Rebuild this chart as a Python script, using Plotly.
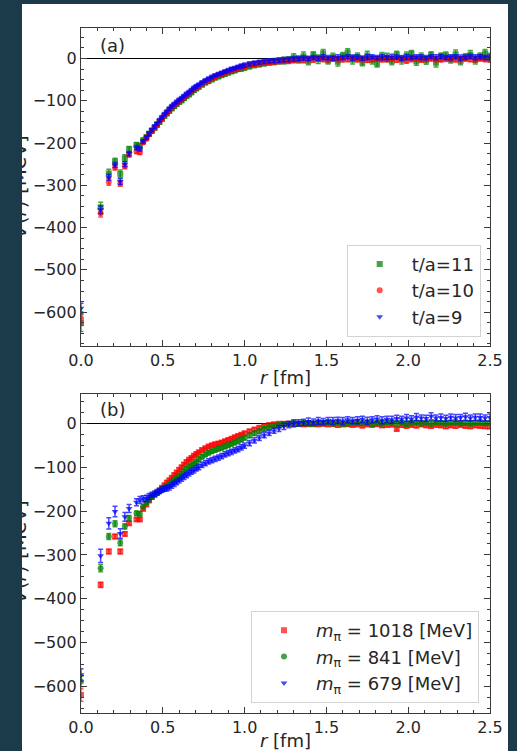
import plotly.graph_objects as go

# Separation r [fm] shared by every series
R = [0.0, 0.12, 0.17, 0.208, 0.24, 0.268, 0.294, 0.339, 0.36, 0.38, 0.40, 0.416,
     0.433, 0.45, 0.465, 0.48, 0.495, 0.51, 0.525, 0.54, 0.555, 0.57, 0.585, 0.60,
     0.615, 0.63, 0.645, 0.66, 0.675, 0.69, 0.705, 0.72, 0.74, 0.76, 0.78, 0.80,
     0.82, 0.84, 0.86, 0.88, 0.90, 0.92, 0.94, 0.96, 0.98, 1.00, 1.03, 1.06,
     1.09, 1.12, 1.15, 1.18, 1.21, 1.24, 1.27, 1.30, 1.33, 1.36, 1.39, 1.42,
     1.45, 1.48, 1.51, 1.54, 1.57, 1.60, 1.63, 1.66, 1.69, 1.72, 1.75, 1.78,
     1.81, 1.84, 1.87, 1.90, 1.93, 1.96, 1.99, 2.02, 2.05, 2.08, 2.11, 2.14,
     2.17, 2.20, 2.23, 2.26, 2.29, 2.32, 2.35, 2.38, 2.41, 2.44, 2.47, 2.50]

# (a) potential V(r) [MeV] for three sink times
V_T11 = [-626, -352, -272, -244, -273, -236, -215, -205, -208, -194, -186, -178,
         -171, -164, -157, -150, -143, -136, -130, -124, -118, -113, -108, -103,
         -99, -94, -89, -85, -80, -75, -71, -67, -62, -57, -53, -49,
         -45, -42, -39, -36, -33, -30, -28, -25, -23, -21, -18, -15,
         -13, -11, -9, -8, -6, -5, -4, 2, -3, 5, -6, 8,
         -2, 12, -5, 3, -8, 6, 14, -3, 4, -9, 7, -4,
         -12, 5, 2, -6, 9, -3, 6, 11, -7, 3, -5, 8,
         -10, 4, 7, -2, 10, -6, 3, 9, -4, 5, 12, 2]
E_T11 = [20, 12, 10, 8, 9, 8, 7, 6, 7, 6, 5, 5,
         5, 5, 5, 5, 5, 5, 5, 5, 5, 5, 5, 5,
         5, 5, 5, 5, 5, 5, 5, 5, 5, 5, 6, 6,
         6, 6, 6, 6, 6, 6, 6, 6, 7, 7, 7, 7,
         7, 7, 7, 7, 7, 8, 8, 9, 8, 10, 9, 8,
         10, 9, 8, 9, 10, 8, 9, 10, 9, 8, 10, 9,
         8, 9, 10, 9, 8, 10, 9, 8, 9, 10, 9, 8,
         10, 9, 8, 9, 10, 9, 8, 10, 9, 8, 9, 10]

V_T10 = [-615, -366, -292, -258, -295, -255, -228, -220, -222, -199, -190, -180,
         -172, -164, -157, -149, -142, -135, -128, -122, -116, -111, -106, -101,
         -97, -92, -87, -83, -78, -73, -69, -65, -60, -55, -51, -47,
         -43, -40, -37, -34, -31, -28, -26, -23, -21, -19, -16, -14,
         -12, -10, -9, -8, -7, -6, -5, -4, -3, -4, -2, -3,
         -1, -2, -3, -1, -2, -3, -2, -1, -3, -2, -4, -2,
         -1, -3, -2, -1, -3, -2, -6, -2, -1, -3, -2, -1,
         -2, -3, -1, -2, -3, -2, -1, -2, -3, -1, -2, -3]
E_T10 = [16, 9, 8, 6, 7, 6, 5, 5, 5, 4, 4, 4,
         4, 4, 4, 4, 4, 4, 4, 4, 4, 4, 4, 4,
         4, 4, 4, 4, 4, 4, 4, 4, 4, 4, 4, 4,
         4, 4, 4, 4, 4, 4, 5, 5, 5, 5, 5, 5,
         5, 5, 5, 5, 5, 5, 5, 6, 5, 6, 5, 6,
         5, 6, 5, 5, 6, 5, 6, 5, 5, 6, 5, 6,
         5, 5, 6, 5, 6, 5, 5, 6, 5, 6, 5, 5,
         6, 5, 6, 5, 5, 6, 5, 6, 5, 5, 6, 5]

V_T9 = [-591, -358, -281, -252, -291, -250, -225, -211, -214, -196, -187, -178,
        -169, -161, -154, -146, -139, -132, -126, -119, -113, -108, -103, -98,
        -94, -89, -84, -80, -75, -70, -66, -62, -57, -52, -48, -44,
        -40, -37, -34, -31, -28, -25, -23, -20, -18, -16, -13, -11,
        -9, -7, -6, -5, -4, -3, -2, -1, 0, 1, 0, 2,
        1, 3, 2, 1, 3, 2, 4, 2, 3, 1, 3, 4,
        2, 3, 2, 4, 3, 1, 3, 2, 4, 3, 2, 4,
        3, 5, 2, 3, 4, 2, 3, 5, 3, 4, 2, 3]
E_T9 = [12, 9, 7, 6, 7, 6, 5, 5, 5, 4, 4, 4,
        4, 4, 4, 4, 4, 4, 4, 4, 4, 4, 4, 4,
        4, 4, 4, 4, 4, 4, 4, 4, 4, 4, 4, 4,
        4, 4, 4, 4, 4, 4, 4, 4, 5, 5, 5, 5,
        5, 5, 5, 5, 5, 5, 5, 5, 5, 5, 5, 5,
        5, 6, 5, 5, 6, 5, 5, 6, 5, 5, 6, 5,
        5, 6, 5, 6, 5, 5, 6, 5, 5, 6, 5, 5,
        6, 5, 5, 6, 5, 6, 5, 5, 6, 5, 5, 6]

# (b) potential V(r) [MeV] for three pion masses
V_M1018 = [-619, -368, -292, -258, -292, -252, -228, -219, -219, -195, -185, -176,
           -168, -162, -158, -153, -147, -141, -135, -130, -124, -118, -112, -106,
           -100, -94, -88, -83, -79, -74, -70, -66, -61, -57, -53, -50,
           -48, -46, -44, -41, -38, -35, -32, -29, -26, -23, -18, -14,
           -10, -7, -4, -2, -1, -1, -1, -2, -1, -3, -2, -2,
           -3, -1, -3, -2, -4, -3, -2, -4, -3, -5, -3, -4,
           -2, -5, -4, -3, -13, -4, -6, -4, -5, -3, -5, -6,
           -4, -5, -7, -5, -6, -4, -6, -7, -5, -6, -7, -8]
E_M1018 = [14, 6, 5, 5, 5, 5, 4, 4, 4, 4, 4, 4,
           4, 4, 4, 4, 4, 4, 4, 4, 4, 4, 4, 4,
           4, 4, 4, 4, 4, 4, 4, 4, 4, 4, 4, 4,
           4, 4, 4, 4, 4, 4, 4, 4, 4, 4, 4, 4,
           4, 4, 4, 4, 4, 4, 4, 5, 4, 4, 5, 4,
           4, 5, 4, 4, 5, 4, 5, 4, 4, 5, 4, 4,
           5, 4, 4, 5, 4, 5, 4, 4, 5, 4, 4, 5,
           4, 4, 5, 4, 5, 4, 4, 5, 4, 4, 5, 4]

V_M841 = [-588, -330, -258, -229, -272, -235, -216, -205, -206, -190, -180, -174,
          -168, -163, -159, -155, -151, -147, -143, -140, -135, -130, -125, -120,
          -115, -110, -104, -100, -96, -92, -88, -82, -76, -71, -67, -64,
          -61, -58, -56, -53, -50, -47, -44, -41, -37, -33, -28, -23,
          -18, -13, -9, -6, -4, -2, -1, 0, -1, 1, 0, -1,
          1, 0, 2, 0, 1, -1, 0, 1, 2, 0, 1, -1,
          1, 0, 2, 1, 0, 1, -1, 1, 2, 0, 1, 0,
          2, 1, 0, 1, 2, 0, 1, 0, 1, 2, 0, 1]
E_M841 = [12, 8, 7, 7, 7, 6, 6, 5, 5, 5, 5, 5,
          5, 5, 5, 5, 5, 5, 5, 5, 5, 5, 5, 5,
          5, 5, 5, 5, 5, 5, 5, 5, 5, 5, 5, 5,
          5, 5, 5, 5, 5, 5, 5, 5, 5, 5, 5, 5,
          5, 5, 5, 5, 5, 5, 5, 6, 5, 5, 6, 5,
          6, 5, 5, 6, 5, 5, 6, 5, 6, 5, 5, 6,
          5, 6, 5, 5, 6, 5, 6, 5, 5, 6, 5, 6,
          5, 5, 6, 5, 6, 5, 5, 6, 5, 6, 5, 5]

V_M679 = [-573, -302, -228, -201, -251, -213, -194, -180, -175, -172, -171, -167,
          -163, -160, -157, -154, -151, -149, -148, -146, -142, -138, -134, -130,
          -126, -122, -118, -114, -110, -107, -103, -100, -95, -91, -87, -84,
          -81, -78, -75, -71, -68, -65, -62, -59, -55, -51, -45, -39,
          -33, -27, -22, -17, -12, -7, -3, 0, 1, 2, 4, 3,
          5, 4, 6, 5, 7, 5, 8, 6, 7, 9, 6, 8,
          10, 7, 9, 8, 11, 9, 12, 10, 14, 12, 11, 16,
          12, 13, 11, 14, 12, 13, 15, 12, 14, 13, 12, 13]
E_M679 = [14, 15, 13, 12, 11, 10, 9, 8, 8, 7, 7, 7,
          6, 6, 6, 6, 6, 6, 6, 6, 6, 6, 6, 6,
          6, 6, 6, 6, 6, 6, 6, 6, 6, 6, 6, 6,
          6, 6, 6, 6, 6, 6, 6, 6, 6, 6, 6, 6,
          6, 6, 6, 6, 7, 7, 7, 8, 7, 7, 8, 7,
          8, 7, 7, 8, 7, 8, 7, 7, 8, 7, 8, 7,
          7, 8, 7, 8, 7, 7, 8, 7, 8, 7, 7, 8,
          7, 8, 7, 7, 8, 7, 8, 7, 7, 8, 7, 8]

LABELS_A = ["t/a=11", "t/a=10", "t/a=9"]
LABELS_B = ["<i>m</i><sub>π</sub> = 1018 [MeV]",
            "<i>m</i><sub>π</sub> = 841 [MeV]",
            "<i>m</i><sub>π</sub> = 679 [MeV]"]

GREEN = "rgba(0,128,0,0.72)"
RED = "rgba(255,0,0,0.68)"
BLUE = "rgba(0,0,255,0.72)"
BG = "#1b3a4a"
INK = "#262626"
AXIS = "#3a3a3a"
FONT = "DejaVu Sans"

# plot-area geometry in pixels
W, H = 517, 751
ML, MR, MT, MB = 81, 27, 28, 38
PW, PH = W - ML - MR, H - MT - MB


def px_x(p):
    return (p - ML) / PW


def px_y(p):
    return (H - MB - p) / PH


fig = go.Figure()


def add_series(x, y, err, name, color, symbol, xa, ya, legend):
    fig.add_trace(go.Scatter(
        x=x, y=y, mode="markers", name=name,
        xaxis=xa, yaxis=ya, legend=legend,
        marker=dict(color=color, symbol=symbol, size=6, line=dict(width=0)),
        error_y=dict(type="data", array=err, color=color,
                     thickness=1.5, width=2.5),
    ))


add_series(R, V_T11, E_T11, LABELS_A[0], GREEN, "square", "x", "y", "legend")
add_series(R, V_T10, E_T10, LABELS_A[1], RED, "circle", "x", "y", "legend")
add_series(R, V_T9, E_T9, LABELS_A[2], BLUE, "triangle-down", "x", "y", "legend")

add_series(R, V_M1018, E_M1018, LABELS_B[0], RED, "square", "x2", "y2", "legend2")
add_series(R, V_M841, E_M841, LABELS_B[1], GREEN, "circle", "x2", "y2", "legend2")
add_series(R, V_M679, E_M679, LABELS_B[2], BLUE, "triangle-down", "x2", "y2", "legend2")

xcommon = dict(
    range=[0, 2.5], tick0=0, dtick=0.5, tickformat=".1f",
    ticks="inside", ticklen=6, tickwidth=1.2, tickcolor=AXIS,
    showline=True, linecolor=AXIS, linewidth=1.3, mirror="ticks",
    showgrid=False, zeroline=False,
    minor=dict(dtick=0.1, ticks="inside", ticklen=3, tickwidth=1, tickcolor=AXIS),
    tickfont=dict(family=FONT, size=16, color=INK),
    title=dict(text="<i>r</i> [fm]", font=dict(family=FONT, size=18, color=INK),
               standoff=2),
    automargin=False,
)
ycommon = dict(
    tick0=0, dtick=100,
    ticks="inside", ticklen=6, tickwidth=1.2, tickcolor=AXIS,
    showline=True, linecolor=AXIS, linewidth=1.3, mirror="ticks",
    showgrid=False, zeroline=True, zerolinecolor="black", zerolinewidth=1,
    minor=dict(dtick=25, ticks="inside", ticklen=3, tickwidth=1, tickcolor=AXIS),
    tickfont=dict(family=FONT, size=16, color=INK),
    automargin=False,
)

legend_common = dict(
    xanchor="right", yanchor="bottom",
    font=dict(family=FONT, size=18, color=INK),
    bgcolor="rgba(255,255,255,0.85)", bordercolor="#d3d3d3",
    borderwidth=1, itemwidth=54, tracegroupgap=0,
)

fig.update_layout(
    width=W, height=H,
    margin=dict(l=ML, r=MR, t=MT, b=MB),
    paper_bgcolor=BG, plot_bgcolor="white",
    font=dict(family=FONT, color=INK),
    xaxis=dict(domain=[0, 1], anchor="y", **xcommon),
    yaxis=dict(domain=[px_y(346), 1], anchor="x", range=[-680, 72], **ycommon),
    xaxis2=dict(domain=[0, 1], anchor="y2", **xcommon),
    yaxis2=dict(domain=[0, px_y(394.3)], anchor="x2", range=[-660, 66], **ycommon),
    legend=dict(x=px_x(480.7), y=px_y(336.7), **legend_common),
    legend2=dict(x=px_x(479), y=px_y(703), **legend_common),
)

# white page behind both panels
fig.add_shape(type="rect", xref="paper", yref="paper", layer="below",
              x0=px_x(22), x1=px_x(508), y0=px_y(H), y1=px_y(4),
              fillcolor="white", line=dict(width=0))

# panel tags
fig.add_annotation(text="(a)", xref="x domain", yref="y domain",
                   x=(98 - ML) / PW, y=1 - (45 - 28) / 318, xanchor="left",
                   yanchor="middle", showarrow=False,
                   font=dict(family=FONT, size=18, color=INK))
fig.add_annotation(text="(b)", xref="x2 domain", yref="y2 domain",
                   x=(98 - ML) / PW, y=1 - (409.3 - 394.3) / 318.7, xanchor="left",
                   yanchor="middle", showarrow=False,
                   font=dict(family=FONT, size=18, color=INK))

# vertical axis titles, running off the left edge of the page
for yc in (187, 552):
    fig.add_annotation(text="<i>V</i>(<i>r</i>) [MeV]", textangle=-90,
                       xref="paper", yref="paper", x=px_x(19), y=px_y(yc),
                       xanchor="center", yanchor="middle", showarrow=False,
                       font=dict(family=FONT, size=20, color=INK))
# page border strip on the left
fig.add_annotation(text=" ", xref="paper", yref="paper",
                   x=px_x(0), y=px_y(0), xanchor="left", yanchor="top",
                   width=22, height=H, bgcolor=BG, borderpad=0, borderwidth=0,
                   showarrow=False)

fig.write_html("out.html")
